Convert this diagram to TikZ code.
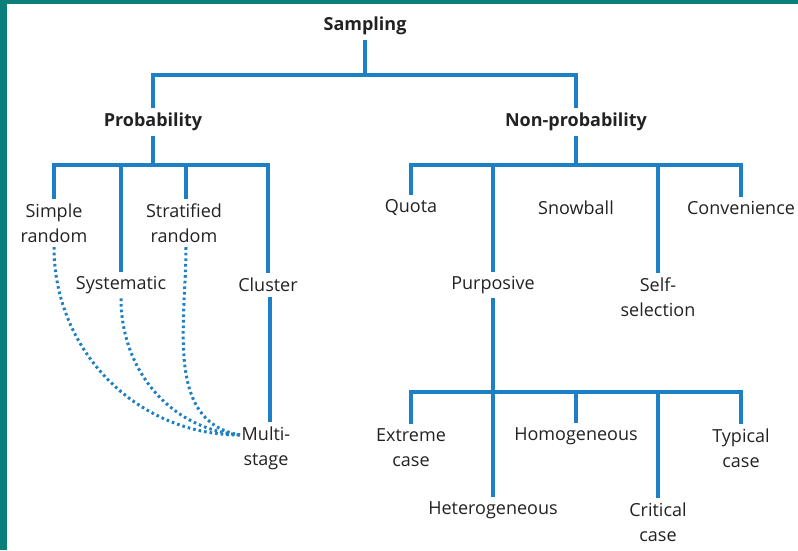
\documentclass[tikz,border=0pt]{standalone}
\usepackage{fontspec}
\setmainfont{Open Sans}
\usepackage{tikz}
\definecolor{linkblue}{RGB}{30,128,196}
\definecolor{frameteal}{RGB}{12,127,122}
\definecolor{textgray}{RGB}{34,34,34}
\tikzset{
    every node/.style={text=textgray, font=\fontsize{18}{25}\selectfont, align=center, inner sep=4.5pt},
    head/.style={font=\fontsize{18}{25}\selectfont\bfseries},
    link/.style={draw=linkblue, line width=3.2pt},
    dots/.style={draw=linkblue, line width=3pt, dash pattern=on 2.6pt off 3pt}}

\begin{document}
\begin{tikzpicture}[x=1pt, y=1pt]

            \useasboundingbox (0,0) rectangle (798,550);
            \fill[frameteal] (0,0) rectangle (7,550);
            \fill[frameteal] (0,546) rectangle (798,550);

            \node[head] (S) at (365,524) {Sampling};
            \node[head] (P) at (153,428) {Probability};
            \node[head] (N) at (576,428) {Non-probability};

            \node (SR) at (54,327) {Simple\\random};
            \node (SY) at (121,265) {Systematic};
            \node (ST) at (184,327) {Stratified\\random};
            \node (CL) at (268,265) {Cluster};
            \node (MS) at (266,102) {Multi-\\stage};

            \node (Q) at (411,342) {Quota};
            \node (PU) at (493,265) {Purposive};
            \node (SN) at (576,342) {Snowball};
            \node (SE) at (658,253) {Self-\\selection};
            \node (CO) at (741,342) {Convenience};

            \node (EX) at (411,102) {Extreme\\case};
            \node (HE) at (493,40) {Heterogeneous};
            \node (HO) at (576,114) {Homogeneous};
            \node (CR) at (658,28) {Critical\\case};
            \node (TY) at (741,102) {Typical\\case};

            \coordinate (b0) at (365,475);
            \coordinate (b1) at (153,385);
            \coordinate (b2) at (576,385);
            \coordinate (b3) at (493,158);
            \coordinate (m) at (240,115);

            \draw[link] (S.south) -- (b0);
            \draw[link] (P.north) |- (b0) -| (N.north);

            \draw[link] (P.south) -- (b1);
            \draw[link] (SR.north) |- (b1) -| (CL.north);
            \draw[link] (SY.north) -- (SY.north |- b1);
            \draw[link] ([xshift=2pt]ST.north) -- ([xshift=2pt]ST.north |- b1);
            \draw[link] ([xshift=2pt]CL.south) -- ([xshift=2pt]CL.south |- MS.north);

            \draw[dots] (SR.south) to[out=-90, in=180] (m);
            \draw[dots] (SY.south) to[out=-90, in=175] (m);
            \draw[dots] ([xshift=2pt]ST.south) to[out=-90, in=170] (m);

            \draw[link] (N.south) -- (b2);
            \draw[link] (Q.north) |- (b2) -| (CO.north);
            \draw[link] (PU.north) -- (PU.north |- b2);
            \draw[link] (SE.north) -- (SE.north |- b2);

            \draw[link] (PU.south) -- (HE.north);
            \draw[link] (EX.north) |- (b3) -| (TY.north);
            \draw[link] (HO.north) -- (HO.north |- b3);
            \draw[link] (CR.north) -- (CR.north |- b3);

        \end{tikzpicture}
\end{document}
